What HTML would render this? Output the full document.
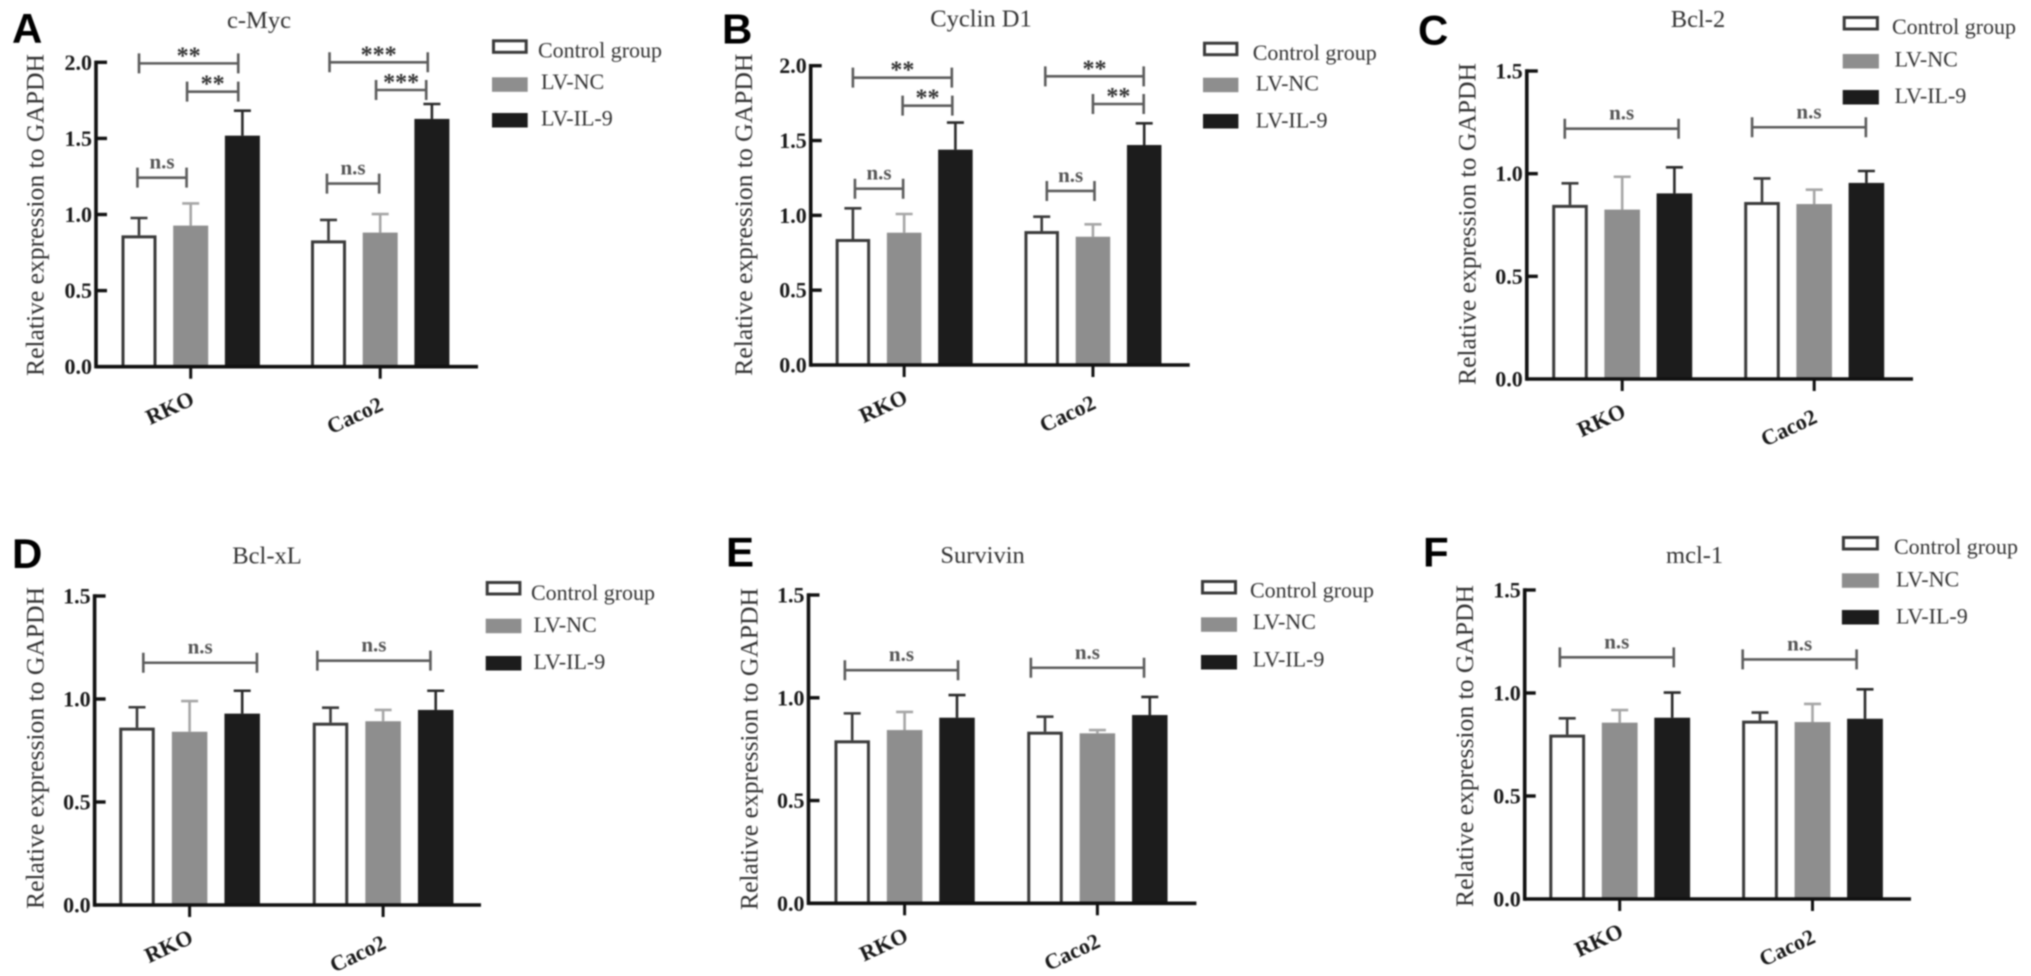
<!DOCTYPE html>
<html lang="en">
<head>
<meta charset="utf-8">
<title>Relative expression to GAPDH panels</title>
<style>
html,body{margin:0;padding:0;background:#fff;width:2031px;height:976px;overflow:hidden}
svg{display:block;filter:blur(0.8px)}
text{font-family:"Liberation Serif",serif}
.letter{font-family:"Liberation Sans",sans-serif;font-weight:700;font-size:42px;fill:#000}
.title{font-size:24.5px;fill:#333;text-anchor:middle;dominant-baseline:central}
.legend{font-size:22px;fill:#333;dominant-baseline:central}
.ylabel{font-size:25.6px;fill:#333;text-anchor:middle;dominant-baseline:central}
.ytick{font-size:22px;font-weight:700;fill:#1a1a1a;text-anchor:end;dominant-baseline:central}
.xtick{font-size:22px;font-weight:700;fill:#1a1a1a;text-anchor:middle;dominant-baseline:central}
.sig{font-size:21px;font-weight:700;fill:#555;text-anchor:middle}
.star{font-size:24px;font-weight:700;fill:#333;text-anchor:middle}
</style>
</head>
<body>
<svg id="figure" xmlns="http://www.w3.org/2000/svg" width="2031" height="976" viewBox="0 0 2031 976"></svg>
<script>
// Shared labels
const categories = ['RKO', 'Caco2'];
const seriesNames = ['Control group', 'LV-NC', 'LV-IL-9'];
const yTickLabelsTall = ['0.0', '0.5', '1.0', '1.5', '2.0'];
const yTickLabelsShort = ['0.0', '0.5', '1.0', '1.5'];

// Values per category: [control, LV-NC, LV-IL-9]
const cMycMeans = [[0.863, 0.927, 1.518], [0.83, 0.881, 1.628]];
const cMycErrorTops = [[0.977, 1.073, 1.682], [0.964, 1.003, 1.726]];
const cyclinMeans = [[0.842, 0.884, 1.439], [0.895, 0.857, 1.47]];
const cyclinErrorTops = [[1.047, 1.009, 1.62], [0.991, 0.94, 1.615]];
const bcl2Means = [[0.848, 0.825, 0.904], [0.862, 0.852, 0.955]];
const bcl2ErrorTops = [[0.953, 0.985, 1.031], [0.977, 0.922, 1.013]];
const bclxlMeans = [[0.861, 0.841, 0.929], [0.885, 0.892, 0.947]];
const bclxlErrorTops = [[0.96, 0.99, 1.04], [0.958, 0.947, 1.04]];
const survivinMeans = [[0.793, 0.843, 0.903], [0.835, 0.827, 0.916]];
const survivinErrorTops = [[0.924, 0.931, 1.013], [0.908, 0.843, 1.004]];
const mcl1Means = [[0.798, 0.856, 0.88], [0.866, 0.859, 0.875]];
const mcl1ErrorTops = [[0.877, 0.917, 1.002], [0.905, 0.947, 1.018]];

// Significance brackets: [category, from series slot, to series slot, level, label]
const cMycBrackets = [[0, 0, 1.92, 1.993, '**'], [0, 0.93, 1.92, 1.807, '**'], [0, -0.03, 0.92, 1.242, 'n.s'], [1, 0.02, 1.92, 2.0, '***'], [1, 0.92, 1.89, 1.818, '***'], [1, -0.03, 0.98, 1.203, 'n.s']];
const cyclinBrackets = [[0, 0, 1.93, 1.92, '**'], [0, 0.97, 1.94, 1.733, '**'], [0, 0.04, 0.98, 1.178, 'n.s'], [1, 0.07, 1.99, 1.929, '**'], [1, 1.0, 1.99, 1.744, '**'], [1, 0.1, 1.03, 1.163, 'n.s']];
const bcl2Brackets = [[0, -0.1, 2.08, 1.219, 'n.s'], [1, -0.19, 1.99, 1.226, 'n.s']];
const bclxlBrackets = [[0, 0.12, 2.28, 1.176, 'n.s'], [1, -0.25, 1.9, 1.186, 'n.s']];
const survivinBrackets = [[0, -0.14, 2.02, 1.134, 'n.s'], [1, -0.27, 1.89, 1.146, 'n.s']];
const mcl1Brackets = [[0, -0.14, 2.03, 1.173, 'n.s'], [1, -0.33, 1.84, 1.163, 'n.s']];

const barFills = ['#ffffff', '#8e8e8e', '#1c1c1c'];
const barStrokes = ['#3a3a3a', '#8e8e8e', '#1c1c1c'];
const errorColors = ['#3a3a3a', '#a6a6a6', '#2a2a2a'];

const panels = [
  {key:'c-myc', letter:'A', lx:12, ly:43, title:'c-Myc', tx:259, ty:20.7, means:cMycMeans, errs:cMycErrorTops, brackets:cMycBrackets, ticks:yTickLabelsTall,
   ax:96, y0:366.7, yTop:62.3, axEnd:478, c1:139, step:51.7, gap:189.5, bw:35, ylx:35, yly:215,
   lgX:492, lgW:35.7, lgY:[39.3,77.3,113], lgTx:[538,541,541], lgTy:[50,81.7,118]},
  {key:'cyclin-d1', letter:'B', lx:722, ly:43.5, title:'Cyclin D1', tx:981, ty:19, means:cyclinMeans, errs:cyclinErrorTops, brackets:cyclinBrackets, ticks:yTickLabelsTall,
   ax:810.7, y0:365, yTop:65.7, axEnd:1189.7, c1:852.9, step:51.25, gap:188.8, bw:34.5, ylx:743.5, yly:214.7,
   lgX:1203, lgW:35.4, lgY:[41.7,77.7,114], lgTx:[1252.7,1255.8,1255.8], lgTy:[52.3,83,120]},
  {key:'bcl-2', letter:'C', lx:1418, ly:44.5, title:'Bcl-2', tx:1698, ty:19.3, means:bcl2Means, errs:bcl2ErrorTops, brackets:bcl2Brackets, ticks:yTickLabelsShort,
   ax:1526.8, y0:379, yTop:71, axEnd:1913, c1:1570, step:52.2, gap:192, bw:35.6, ylx:1467, yly:224,
   lgX:1842.7, lgW:36.2, lgY:[16,54,90], lgTx:[1892,1894.6,1894.6], lgTy:[26.7,59,95.7]},
  {key:'bcl-xl', letter:'D', lx:12, ly:568, title:'Bcl-xL', tx:267, ty:556, means:bclxlMeans, errs:bclxlErrorTops, brackets:bclxlBrackets, ticks:yTickLabelsShort,
   ax:94.6, y0:905, yTop:596, axEnd:481, c1:137, step:52.6, gap:193.5, bw:35.5, ylx:35, yly:748,
   lgX:485.7, lgW:35.7, lgY:[581,618.7,656], lgTx:[531,533.5,533.5], lgTy:[592.7,624.3,661.7]},
  {key:'survivin', letter:'E', lx:726, ly:566.7, title:'Survivin', tx:982.6, ty:555.7, means:survivinMeans, errs:survivinErrorTops, brackets:survivinBrackets, ticks:yTickLabelsShort,
   ax:808.5, y0:903.3, yTop:595, axEnd:1196.4, c1:852.2, step:52.4, gap:192.8, bw:35.5, ylx:749, yly:749,
   lgX:1201, lgW:36, lgY:[580,617.3,655], lgTx:[1250,1252.7,1252.7], lgTy:[590,621.7,659]},
  {key:'mcl-1', letter:'F', lx:1423, ly:566.7, title:'mcl-1', tx:1694.6, ty:555.7, means:mcl1Means, errs:mcl1ErrorTops, brackets:mcl1Brackets, ticks:yTickLabelsShort,
   ax:1524.7, y0:899, yTop:590, axEnd:1911, c1:1567.2, step:52.5, gap:192.8, bw:35.8, ylx:1464.4, yly:746,
   lgX:1841.9, lgW:37, lgY:[536,573.3,610], lgTx:[1894,1896,1896], lgTy:[546.7,579,616]}
];

const NS = 'http://www.w3.org/2000/svg';
const figure = document.getElementById('figure');

function shape(parent, tag, props) {
  const el = document.createElementNS(NS, tag);
  for (const k in props) el.setAttribute(k, props[k]);
  parent.appendChild(el);
  return el;
}
function label(parent, x, y, str, cls) {
  const el = document.createElementNS(NS, 'text');
  el.setAttribute('x', x);
  el.setAttribute('y', y);
  el.setAttribute('class', cls);
  el.textContent = str;
  parent.appendChild(el);
  return el;
}
function slug(s) {
  return s.toLowerCase().replace(/[^a-z0-9]+/g, '-');
}

panels.forEach(function (p) {
  const yMax = parseFloat(p.ticks[p.ticks.length - 1]);
  const yScale = function (v) { return p.y0 - (v / yMax) * (p.y0 - p.yTop); };
  const xScale = function (cat, slot) { return p.c1 + cat * p.gap + slot * p.step; };

  const g = shape(figure, 'g', {});
  
  

  const letter = label(g, p.lx, p.ly, p.letter, 'letter');
  
  

  const title = label(g, p.tx, p.ty, p.title, 'title');
  
  

  const yTitle = label(g, 0, 0, 'Relative expression to GAPDH', 'ylabel');
  yTitle.setAttribute('transform', 'translate(' + p.ylx + ' ' + p.yly + ') rotate(-90)');
  
  

  // bars and error bars
  p.means.forEach(function (row, c) {
    row.forEach(function (v, s) {
      const cx = xScale(c, s);
      const color = errorColors[s];
      const top = yScale(p.errs[c][s]);
      const stem = shape(g, 'line', {x1:cx, x2:cx, y1:yScale(v), y2:top, stroke:color, 'stroke-width':2.6});
      
      
      const cap = shape(g, 'line', {x1:cx - 8.5, x2:cx + 8.5, y1:top, y2:top, stroke:color, 'stroke-width':2.6});
      
      
      const sw = s === 0 ? 3 : 0;
      const bar = shape(g, 'rect', {x:cx - p.bw / 2 + sw / 2, y:yScale(v) + sw / 2, width:p.bw - sw, height:Math.max(0, p.y0 - yScale(v) - sw / 2), fill:barFills[s], stroke:barStrokes[s], 'stroke-width':sw});
      
      
    });
  });

  // axes
  const yAxis = shape(g, 'line', {x1:p.ax, x2:p.ax, y1:p.yTop - 1.7, y2:p.y0 + 1.7, stroke:'#111', 'stroke-width':3.6});
  
  
  const xAxis = shape(g, 'line', {x1:p.ax, x2:p.axEnd, y1:p.y0, y2:p.y0, stroke:'#111', 'stroke-width':3.6});
  
  

  p.ticks.forEach(function (t) {
    const y = yScale(parseFloat(t));
    if (parseFloat(t) > 0) {
      const tick = shape(g, 'line', {x1:p.ax, x2:p.ax + 11, y1:y, y2:y, stroke:'#111', 'stroke-width':3.4});
      
      
    }
    const tl = label(g, p.ax - 4, y, t, 'ytick');
    
    
  });

  categories.forEach(function (cat, c) {
    const x = xScale(c, 1);
    const tick = shape(g, 'line', {x1:x, x2:x, y1:p.y0, y2:p.y0 + 12, stroke:'#111', 'stroke-width':3});
    
    
    const dx = c === 0 ? -21 : -25.5;
    const dy = c === 0 ? 41 : 48.5;
    const tl = label(g, 0, 0, cat, 'xtick');
    tl.setAttribute('transform', 'translate(' + (x + dx) + ' ' + (p.y0 + dy) + ') rotate(-25)');
    
    
  });

  // significance brackets
  p.brackets.forEach(function (b) {
    const x1 = xScale(b[0], b[1]);
    const x2 = xScale(b[0], b[2]);
    const y = yScale(b[3]);
    const bg = shape(g, 'g', {});
    
    
    const d = 'M' + x1 + ' ' + (y - 10) + 'V' + (y + 10) + 'M' + x1 + ' ' + y + 'H' + x2 + 'M' + x2 + ' ' + (y - 10) + 'V' + (y + 10);
    const line = shape(bg, 'path', {d:d, fill:'none', stroke:'#5c5c5c', 'stroke-width':2.6});
    
    
    const isStar = b[4].charAt(0) === '*';
    const txt = label(bg, (x1 + x2) / 2, isStar ? y : y - 9, b[4], isStar ? 'star' : 'sig');
    
    
  });

  // legend
  const lg = shape(g, 'g', {});
  
  
  seriesNames.forEach(function (name, s) {
    const sw = s === 0 ? 3 : 0;
    const swatch = shape(lg, 'rect', {x:p.lgX + sw / 2, y:p.lgY[s] + sw / 2, width:p.lgW - sw, height:14.5 - sw, fill:barFills[s], stroke:barStrokes[s], 'stroke-width':sw});
    
    
    const tx = label(lg, p.lgTx[s], p.lgTy[s], name, 'legend');
    
    
  });
});
</script>
</body>
</html>
